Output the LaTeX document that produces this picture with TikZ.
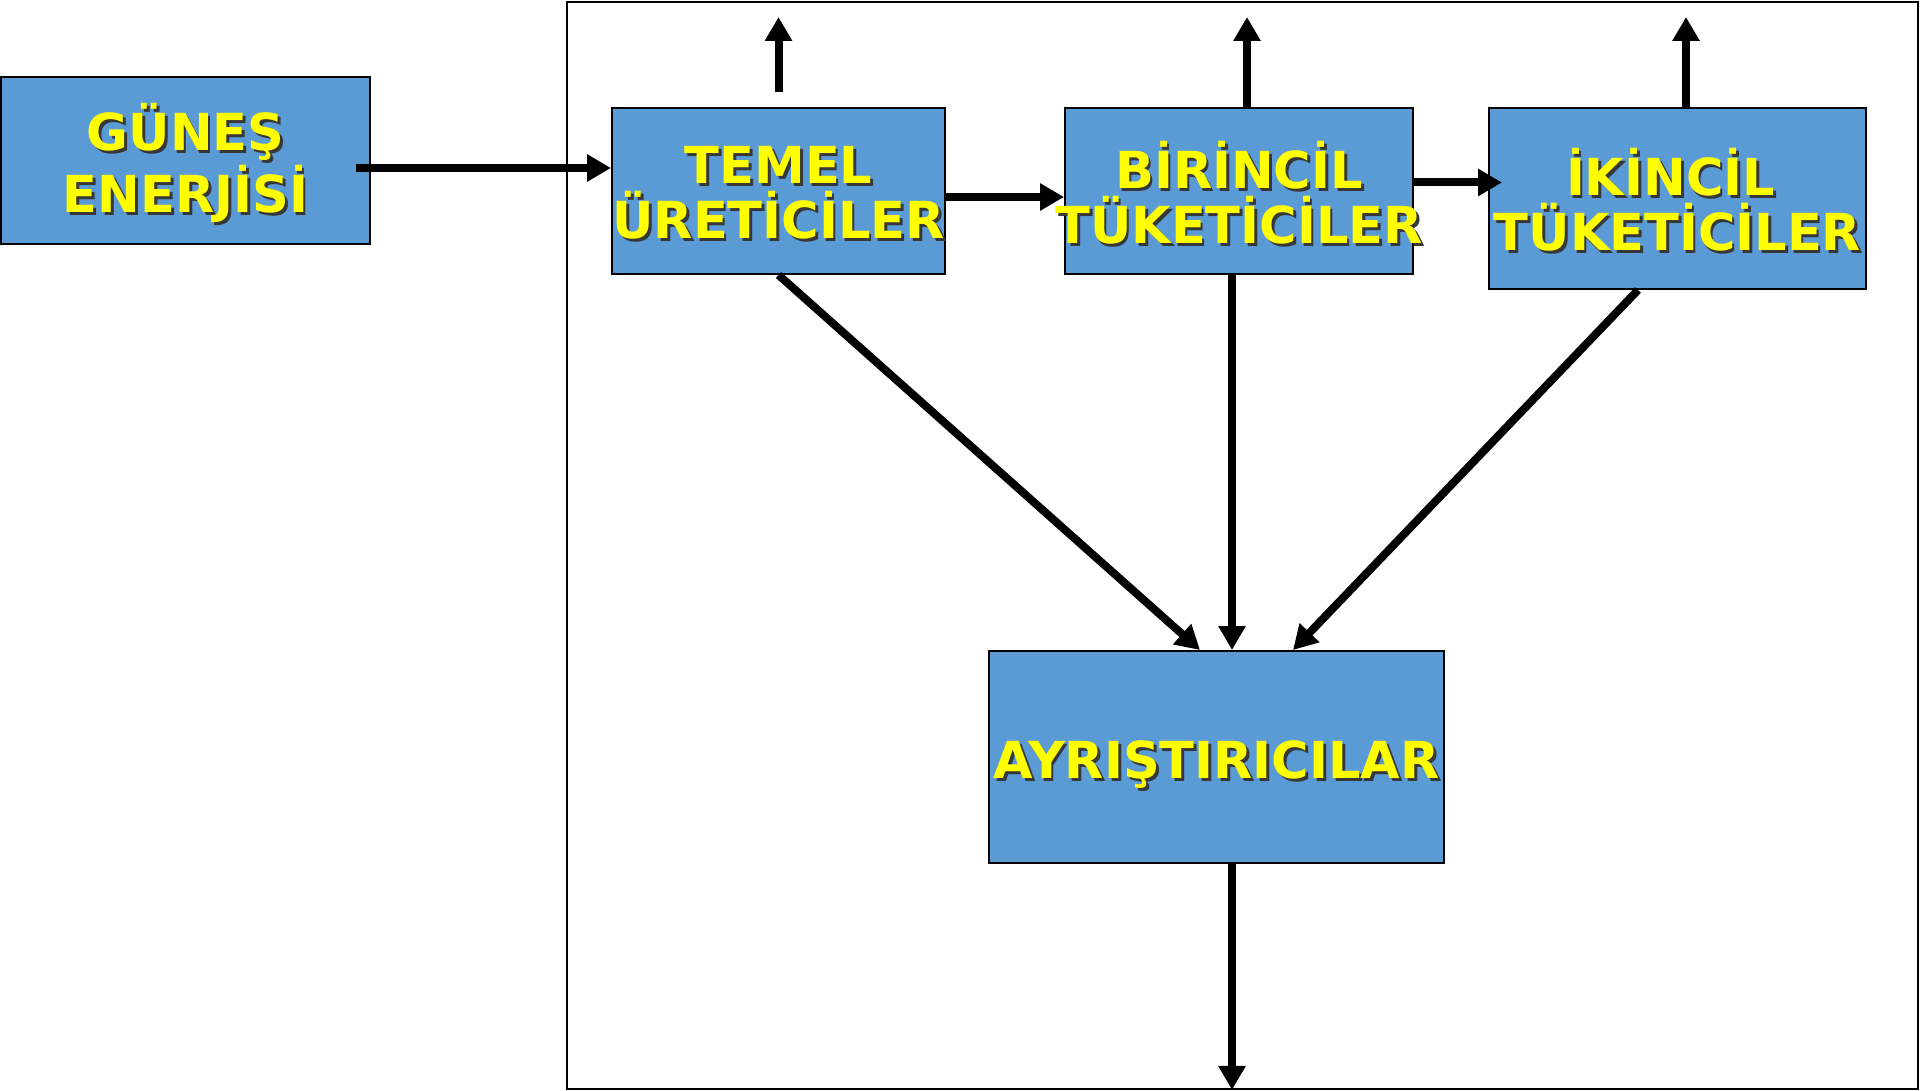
\documentclass[tikz,border=0pt]{standalone}
\usepackage{fontspec}
\setmainfont{DejaVu Sans}
\usetikzlibrary{arrows.meta,calc}
\definecolor{boxblue}{RGB}{91,155,213}
\definecolor{labelyellow}{RGB}{255,255,0}
\definecolor{shade}{RGB}{55,55,55}
% yellow label line with a dark drop shadow, centred and free to overhang its box
\newcommand\shd[1]{\makebox[0pt][c]{\rlap{\kern1.4pt\raisebox{-1.4pt}{\textcolor{shade}{#1}}}#1}}
\begin{document}
\begin{tikzpicture}[x=0.5pt,y=-0.5pt,
  box/.style={draw=black,line width=1pt,fill=boxblue,inner sep=0pt},
  txt/.style={inner sep=0pt,text=labelyellow,align=center,
    font=\fontsize{25.5}{27.5}\selectfont\bfseries},
  arr/.style={line width=4pt,-{Triangle[length=12pt,width=13pt]}}]
\useasboundingbox (0,0) rectangle (1920,1091);
% outer system frame
\node[draw=black,line width=0.9pt,minimum width=675.5pt,minimum height=543.5pt,inner sep=0pt] (frame) at (1242.5,545.5) {};
% boxes
\node[box,minimum width=184.5pt,minimum height=83.5pt] (sun) at (185.5,160.5) {};
\node[box,minimum width=166.5pt,minimum height=83pt] (temel) at (778.5,191) {};
\node[box,minimum width=174pt,minimum height=83pt] (birincil) at (1239,191) {};
\node[box,minimum width=188.5pt,minimum height=90.5pt] (ikincil) at (1677.5,198.5) {};
\node[box,minimum width=227.5pt,minimum height=106pt] (ayris) at (1216.5,757) {};
% labels
\node[txt] (sunT) at ([yshift=-2pt]sun.center) {\shd{GÜNEŞ}\\\shd{ENERJİSİ}};
\node[txt] (temelT) at ([yshift=-1.5pt]temel.center) {\shd{TEMEL}\\\shd{ÜRETİCİLER}};
\node[txt] (birincilT) at ([yshift=-1.5pt]birincil.center) {\shd{BİRİNCİL}\\\shd{TÜKETİCİLER}};
\node[txt] (ikincilT) at ([yshift=-1.5pt]ikincil.center) {\shd{İKİNCİL\kern7pt}\\\shd{TÜKETİCİLER}};
\node[txt] (ayrisT) at ([yshift=-4.5pt]ayris.center) {\shd{AYRIŞTIRICILAR}};
% energy flows
\draw[arr] ([xshift=-7.5pt,yshift=-3.75pt]sun.east) -- ([yshift=-3.75pt]sun.east -| temel.west);
\draw[arr] ([yshift=7.5pt]temel.north) -- ([yshift=45pt]temel.north);
\draw[arr] ([xshift=4pt]birincil.north) -- ([xshift=4pt,yshift=45pt]birincil.north);
\draw[arr] ([xshift=4.25pt]ikincil.north) -- ([xshift=4.25pt,yshift=45pt]ikincil.north);
\draw[arr] ([yshift=-3pt]temel.east) -- ([yshift=-3pt]temel.east -| birincil.west);
\draw[arr] ([yshift=4.25pt]birincil.east) -- ([xshift=7pt,yshift=4.25pt]birincil.east -| ikincil.west);
\draw[arr] (temel.south) -- ([xshift=-8.25pt]ayris.north);
\draw[arr] ([xshift=-3.5pt]birincil.south) -- ([xshift=-3.5pt]birincil.south |- ayris.north);
\draw[arr] ([xshift=-19.75pt]ikincil.south) -- ([xshift=38.25pt]ayris.north);
\draw[arr] ([xshift=7.75pt]ayris.south) -- ([xshift=7.75pt]ayris.south |- frame.south);
\end{tikzpicture}
\end{document}
